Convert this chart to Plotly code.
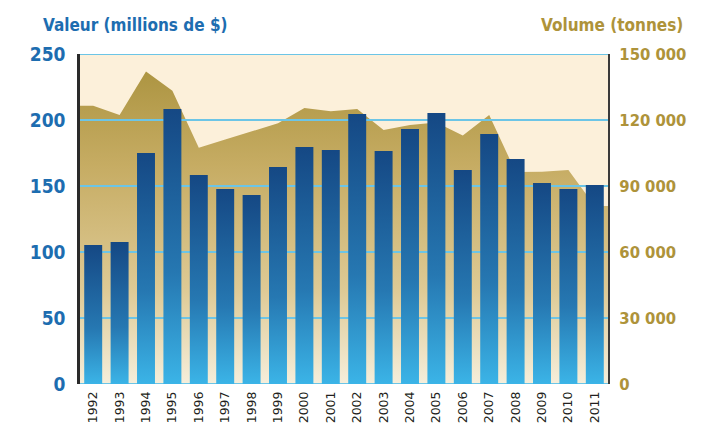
import plotly.graph_objects as go

years = ["1992", "1993", "1994", "1995", "1996", "1997", "1998", "1999", "2000", "2001",
         "2002", "2003", "2004", "2005", "2006", "2007", "2008", "2009", "2010", "2011"]
valeur = [105.3, 107.6, 175.0, 208.3, 158.3, 147.7, 143.2, 164.4, 179.5, 177.3,
          204.5, 176.5, 193.2, 205.3, 162.1, 189.4, 170.5, 152.3, 147.7, 150.8]
volume = [126500, 122300, 142000, 133300, 107400, 111100, 114800, 118500, 125500, 124000,
          125000, 115500, 117700, 118900, 112900, 122300, 96400, 96500, 97300, 80900]
val_ticks = [0, 50, 100, 150, 200, 250]
vol_ticks = [0, 30000, 60000, 90000, 120000, 150000]
vol_ticktext = ["0", "30 000", "60 000", "90 000", "120 000", "150 000"]

BLUE = "#1D6DB0"
GOLD = "#AE933A"
GRID = "#6CC5E6"
NARROW = "Liberation Sans Narrow, DejaVu Sans Condensed, Arial Narrow, sans-serif"

n = len(years)
xi = list(range(n))
half = 0.34

fig = go.Figure()

# Volume area (main y axis, right side)
ax = [-0.5] + xi + [n - 0.5]
ay = [volume[0]] + volume + [volume[-1]]
fig.add_trace(go.Scatter(
    x=ax, y=ay, mode="lines", line=dict(width=0), fill="tozeroy",
    fillcolor="#C4AA60",
    fillgradient=dict(type="vertical", start=0, stop=max(volume),
                      colorscale=[[0, "#F5EEDB"], [0.3, "#DECA95"], [0.7, "#C6AC63"], [1, "#AD9542"]]),
    yaxis="y", hoverinfo="skip", showlegend=False))

# Gridlines drawn above the area but below the bars
for t in vol_ticks:
    fig.add_trace(go.Scatter(x=[-0.5, n - 0.5], y=[t, t], mode="lines",
                             line=dict(color=GRID, width=2.2), yaxis="y",
                             hoverinfo="skip", showlegend=False))

# Value bars (overlay axis, left side) with vertical gradient
for i, v in enumerate(valeur):
    fig.add_trace(go.Scatter(
        x=[i - half, i - half, i + half, i + half, i - half],
        y=[0, v, v, 0, 0],
        mode="lines", line=dict(width=0), fill="toself", fillcolor="#2470AA",
        fillgradient=dict(type="vertical",
                          colorscale=[[0, "#3BB4E7"], [0.4, "#2678B2"], [1, "#154884"]]),
        yaxis="y2", name=years[i], hoverinfo="skip", showlegend=False))

# page body has an 8px default margin; margins compensate for that offset
fig.update_layout(
    width=716, height=425,
    margin=dict(l=72, r=116, t=46, b=49, autoexpand=False),
    paper_bgcolor="white", plot_bgcolor="#FCF0DA",
    showlegend=False,
    xaxis=dict(range=[-0.5, n - 0.5], tickmode="array", tickvals=xi, ticktext=years,
               tickangle=-90, showgrid=False, zeroline=False, showline=False,
               ticks="", ticklabelstandoff=4, automargin=False,
               tickfont=dict(family="DejaVu Sans, sans-serif", size=12.5, color="#231F20")),
    yaxis=dict(range=[0, 150000], side="right", tickmode="array", tickvals=vol_ticks,
               ticktext=vol_ticktext, showgrid=False, zeroline=False, automargin=False,
               showline=True, linecolor="#3A3A3A", linewidth=2, ticks="",
               ticklabelstandoff=6,
               tickfont=dict(family=NARROW, size=16.5, color=GOLD, weight="bold")),
    yaxis2=dict(range=[0, 250], side="left", overlaying="y", tickmode="array",
                tickvals=val_ticks, showgrid=False, zeroline=False, automargin=False,
                showline=True, linecolor="#2A2A2A", linewidth=2.5, ticks="",
                ticklabelstandoff=8,
                tickfont=dict(family=NARROW, size=19, color=BLUE, weight="bold")),
    annotations=[
        dict(text="Valeur (millions de $)", xref="paper", yref="paper",
             x=(41 - 80) / 528, y=1 + 29 / 330, xanchor="left", yanchor="middle",
             showarrow=False, font=dict(family=NARROW, size=17, color=BLUE, weight="bold")),
        dict(text="Volume (tonnes)", xref="paper", yref="paper",
             x=(685 - 80) / 528, y=1 + 29 / 330, xanchor="right", yanchor="middle",
             showarrow=False, font=dict(family=NARROW, size=17, color=GOLD, weight="bold")),
    ],
)

fig.write_html("out.html")
